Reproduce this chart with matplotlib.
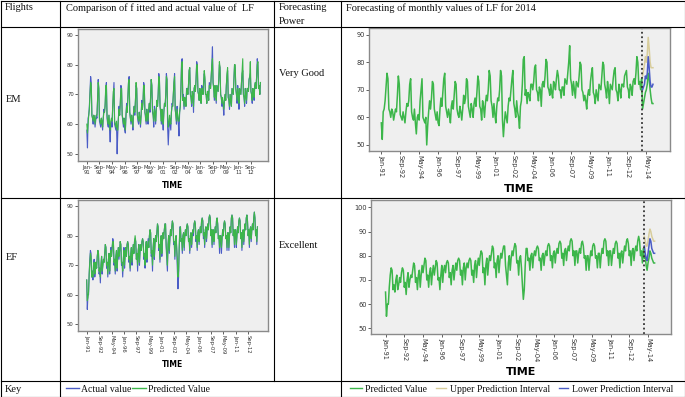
#!/usr/bin/env python3
"""Table of EM / EF load factor fits and 2014 forecasts."""

import matplotlib

matplotlib.use("Agg")
import matplotlib.pyplot as plt
import numpy as np
from matplotlib.lines import Line2D

W, H = 685, 397

TICK_LABELS = ["Jan-91", "Sep-92", "May-94", "Jan-96", "Sep-97", "May-99", "Jan-01",
               "Sep-02", "May-04", "Jan-06", "Sep-07", "May-09", "Jan-11", "Sep-12", "May-14"]

# monthly values Jan-91 .. Dec-13, one row per year
em_actual = [
    58, 52, 62, 63, 66, 71, 76, 74, 63, 62, 60, 63,
    62, 59, 61, 63, 62, 68, 75, 72, 61, 60, 59, 62,
    60, 58, 62, 65, 64, 66, 72, 74, 62, 60, 59, 63,
    58, 54, 60, 61, 59, 66, 70, 74, 60, 59, 58, 60,
    50, 57, 62, 66, 63, 67, 73, 72, 63, 61, 59, 62,
    58, 57, 63, 67, 64, 69, 74, 76, 64, 62, 60, 63,
    61, 58, 64, 66, 63, 68, 73, 72, 63, 61, 60, 64,
    62, 59, 63, 68, 65, 67, 74, 73, 64, 62, 60, 65,
    63, 60, 65, 67, 64, 69, 75, 73, 64, 63, 59, 66,
    64, 60, 65, 68, 66, 70, 77, 75, 66, 64, 60, 65,
    61, 58, 64, 67, 66, 70, 77, 75, 59, 53, 58, 62,
    60, 58, 64, 67, 66, 70, 74, 77, 65, 63, 60, 66,
    62, 60, 56, 64, 66, 72, 81, 82, 68, 70, 65, 69,
    68, 66, 72, 72, 70, 73, 78, 79, 70, 69, 66, 71,
    70, 64, 72, 73, 71, 75, 81, 80, 71, 70, 68, 72,
    69, 67, 73, 72, 70, 74, 77, 75, 70, 70, 67, 71,
    71, 68, 74, 73, 72, 76, 80, 86, 74, 72, 68, 73,
    70, 67, 73, 72, 71, 75, 80, 79, 70, 69, 66, 68,
    66, 63, 68, 70, 68, 73, 76, 78, 69, 68, 65, 70,
    68, 66, 72, 71, 70, 75, 80, 79, 72, 70, 67, 73,
    70, 65, 72, 71, 70, 74, 77, 78, 70, 69, 66, 72,
    70, 67, 72, 72, 71, 75, 76, 77, 71, 70, 67, 72,
    71, 68, 73, 74, 72, 76, 82, 80, 72, 73, 70, 74,
]
em_fitted = [
    60, 57, 60, 63, 65, 70, 74, 73, 63, 62, 61, 63,
    62, 60, 62, 63, 63, 68, 74, 72, 62, 61, 60, 62,
    61, 59, 62, 64, 64, 67, 73, 73, 63, 61, 60, 63,
    60, 58, 61, 62, 61, 66, 71, 72, 61, 60, 59, 61,
    58, 58, 62, 65, 63, 67, 72, 72, 63, 62, 60, 62,
    60, 58, 63, 66, 64, 69, 74, 75, 64, 62, 61, 63,
    61, 59, 64, 66, 64, 68, 74, 72, 63, 62, 61, 64,
    62, 60, 63, 67, 65, 68, 73, 73, 64, 63, 61, 65,
    63, 61, 65, 67, 65, 69, 75, 73, 65, 63, 61, 65,
    64, 61, 65, 68, 66, 70, 76, 75, 66, 64, 61, 65,
    62, 60, 64, 67, 66, 70, 76, 75, 63, 59, 60, 63,
    61, 60, 64, 66, 66, 70, 74, 76, 65, 63, 61, 65,
    63, 61, 61, 64, 66, 71, 79, 81, 68, 69, 66, 69,
    68, 66, 71, 72, 70, 73, 78, 79, 70, 69, 67, 71,
    70, 66, 72, 73, 71, 75, 80, 80, 71, 70, 68, 72,
    70, 67, 72, 72, 70, 74, 78, 76, 70, 70, 67, 71,
    71, 68, 73, 73, 72, 76, 80, 82, 74, 72, 69, 73,
    71, 68, 73, 72, 71, 75, 81, 79, 70, 69, 67, 69,
    67, 65, 68, 70, 68, 73, 77, 79, 69, 68, 66, 70,
    68, 66, 72, 71, 70, 75, 80, 80, 72, 70, 68, 72,
    70, 67, 72, 71, 70, 74, 78, 82, 70, 69, 67, 72,
    70, 68, 72, 72, 71, 75, 76, 81, 71, 70, 68, 72,
    71, 69, 73, 74, 72, 76, 80, 81, 72, 73, 70, 74,
]
ef_actual = [
    65, 55, 60, 60, 67, 72, 75, 74, 66, 68, 65, 70,
    72, 66, 68, 71, 69, 73, 75, 74, 67, 69, 64, 70,
    73, 67, 70, 72, 71, 74, 77, 76, 69, 71, 66, 72,
    74, 67, 72, 76, 73, 76, 79, 78, 70, 72, 67, 73,
    75, 68, 73, 76, 72, 75, 78, 77, 70, 71, 66, 72,
    76, 69, 74, 76, 73, 77, 78, 77, 71, 73, 68, 74,
    76, 70, 74, 77, 74, 78, 79, 78, 72, 74, 68, 75,
    77, 70, 75, 77, 75, 78, 79, 78, 72, 74, 69, 76,
    78, 71, 76, 79, 76, 80, 82, 81, 73, 75, 68, 76,
    79, 72, 77, 80, 78, 81, 84, 83, 75, 77, 71, 78,
    80, 73, 78, 81, 79, 82, 84, 84, 76, 72, 68, 77,
    80, 74, 79, 82, 80, 83, 85, 84, 77, 78, 72, 79,
    80, 75, 68, 62, 66, 76, 83, 83, 78, 79, 74, 80,
    81, 75, 80, 82, 80, 83, 84, 83, 78, 79, 74, 80,
    81, 76, 80, 82, 80, 84, 85, 84, 78, 80, 75, 81,
    82, 77, 81, 83, 81, 85, 86, 85, 79, 81, 76, 82,
    83, 78, 82, 84, 82, 86, 87, 86, 80, 82, 76, 82,
    82, 77, 81, 83, 81, 85, 86, 84, 79, 80, 74, 80,
    80, 74, 79, 82, 80, 84, 85, 84, 79, 80, 75, 81,
    81, 75, 80, 83, 81, 86, 87, 86, 80, 82, 76, 82,
    82, 76, 80, 83, 81, 85, 86, 85, 79, 81, 75, 81,
    82, 77, 81, 84, 82, 86, 87, 85, 80, 82, 76, 82,
    83, 78, 82, 84, 82, 86, 88, 86, 80, 82, 77, 83,
]
ef_fitted = [
    65, 58, 59, 61, 67, 71, 74, 73, 66, 68, 66, 70,
    71, 67, 68, 71, 69, 73, 75, 74, 68, 69, 66, 70,
    73, 68, 70, 72, 71, 74, 77, 76, 70, 71, 67, 72,
    74, 68, 72, 75, 73, 76, 78, 78, 71, 72, 68, 73,
    75, 69, 73, 76, 73, 75, 78, 77, 71, 71, 68, 72,
    75, 70, 74, 76, 73, 77, 78, 77, 72, 73, 69, 74,
    76, 71, 74, 77, 74, 78, 80, 78, 72, 74, 70, 75,
    77, 71, 75, 77, 75, 78, 79, 78, 73, 74, 70, 76,
    78, 72, 76, 78, 76, 80, 82, 81, 74, 75, 70, 76,
    79, 73, 77, 80, 78, 81, 84, 83, 76, 77, 72, 78,
    80, 74, 78, 81, 79, 82, 84, 84, 77, 74, 70, 77,
    80, 75, 79, 82, 80, 83, 85, 84, 78, 78, 73, 79,
    80, 76, 72, 66, 68, 76, 82, 83, 78, 79, 75, 80,
    81, 76, 80, 82, 80, 83, 84, 83, 78, 79, 75, 80,
    81, 77, 80, 82, 81, 84, 85, 84, 79, 80, 76, 81,
    82, 78, 81, 83, 81, 85, 86, 85, 80, 81, 77, 82,
    83, 79, 82, 84, 82, 86, 87, 86, 80, 82, 77, 82,
    82, 78, 81, 83, 81, 85, 86, 84, 79, 80, 76, 80,
    80, 76, 79, 82, 80, 84, 85, 84, 79, 80, 76, 81,
    81, 76, 80, 83, 81, 86, 87, 86, 80, 82, 77, 82,
    82, 77, 80, 83, 81, 85, 86, 85, 79, 81, 76, 81,
    82, 78, 81, 84, 82, 86, 87, 85, 80, 82, 77, 82,
    83, 79, 82, 84, 82, 86, 88, 86, 80, 82, 78, 83,
]

# 2014 forecasts (Jan-14 .. Dec-14)
em_forecast = [63, 65, 67, 69, 70, 72, 76, 74, 70, 67, 65, 65]
em_lower = [70, 71, 72, 75, 74, 76, 82, 78, 73, 71, 71, 72]
em_upper = [75, 77, 79, 82, 80, 83, 89, 85, 80, 78, 78, 78]
ef_forecast = [79, 80, 76, 74, 77, 79, 82, 81, 79, 78, 77, 77]
ef_lower = [84, 81, 79, 78, 81, 84, 87, 86, 83, 82, 81, 81]
ef_upper = [88, 86, 84, 84, 86, 89, 91, 90, 88, 87, 86, 86]

BLUE = "#4a5cc6"
GREEN = "#3cb64a"
TAN = "#d8cd9c"
SERIF = "Liberation Serif"


def _rect(x0, y0, x1, y1):
    return [x0 / W, 1 - y1 / H, (x1 - x0) / W, (y1 - y0) / H]


def _hline(fig, y, x0=0.5, x1=W - 0.5):
    fig.add_artist(Line2D([x0 / W, x1 / W], [1 - y / H, 1 - y / H],
                          transform=fig.transFigure, color="black", lw=0.8))


def _vline(fig, x, y0=0.5, y1=H - 0.5):
    fig.add_artist(Line2D([x / W, x / W], [1 - y0 / H, 1 - y1 / H],
                          transform=fig.transFigure, color="black", lw=0.8))


def _text(fig, x, y, s, size=7.5):
    fig.text(x / W, 1 - y / H, s, ha="left", va="center", fontfamily=SERIF,
             fontsize=size, color="#111111")


def _key(fig, x0, x1, y, color):
    fig.add_artist(Line2D([x0 / W, x1 / W], [1 - y / H, 1 - y / H],
                          transform=fig.transFigure, color=color, lw=1.0))


def _style(ax, xlim, ylim, yticks, small):
    ax.set_facecolor("#efefef")
    for sp in ax.spines.values():
        sp.set_color("#8a8a8a")
        sp.set_linewidth(1.0)
    ax.set_xlim(*xlim)
    ax.set_ylim(*ylim)
    ax.set_yticks(yticks)
    ax.tick_params(axis="both", direction="out", length=2, width=0.6, color="#444444",
                   labelsize=3.8 if small else 4.8, pad=1, labelcolor="#333333")
    ax.set_xlabel("TIME", fontsize=5.5 if small else 8, fontweight="bold",
                  labelpad=4 if small else 3, fontfamily="DejaVu Sans")


def main():
    fig = plt.figure(figsize=(W / 100, H / 100), dpi=100)
    months = np.arange(len(em_actual))
    fc_months = np.arange(len(em_actual), len(em_actual) + len(em_forecast))
    full = np.arange(len(em_actual) + len(em_forecast))

    # EM fitted vs actual
    ax = fig.add_axes(_rect(78, 29, 268, 161))
    ax.plot(months, em_actual, color=BLUE, lw=0.8)
    ax.plot(months, em_fitted, color=GREEN, lw=0.8)
    _style(ax, (-14, 287), (47.6, 92), [50, 60, 70, 80, 90], True)
    ax.set_xticks(np.arange(0, 261, 20))
    ax.set_xticklabels([t.replace("-", "-\n") for t in TICK_LABELS[:14]], linespacing=1.0)

    # EM forecast
    ax = fig.add_axes(_rect(369, 28, 670, 151))
    ax.plot(full, em_actual + em_forecast, color=GREEN, lw=1.1)
    ax.plot(fc_months, em_upper, color=TAN, lw=1.1)
    ax.plot(fc_months, em_lower, color=BLUE, lw=1.1)
    ax.axvline(275.5, color="#333333", lw=1.3, ls=(0, (1, 1.5)))
    _style(ax, (-13, 305), (47.8, 92.4), [50, 60, 70, 80, 90], False)
    ax.set_xticks(np.arange(0, 281, 20))
    ax.set_xticklabels(TICK_LABELS, rotation=270)

    # EF fitted vs actual
    ax = fig.add_axes(_rect(78, 200, 268, 331))
    ax.plot(months, ef_actual, color=BLUE, lw=0.8)
    ax.plot(months, ef_fitted, color=GREEN, lw=0.8)
    _style(ax, (-14, 292), (47.7, 92.1), [50, 60, 70, 80, 90], True)
    ax.set_xticks(np.arange(0, 261, 20))
    ax.set_xticklabels(TICK_LABELS[:14], rotation=270)

    # EF forecast
    ax = fig.add_axes(_rect(371, 200, 671, 334))
    ax.plot(full, ef_actual + ef_forecast, color=GREEN, lw=1.1)
    ax.plot(fc_months, ef_upper, color=TAN, lw=1.1)
    ax.plot(fc_months, ef_lower, color=BLUE, lw=1.1)
    ax.axvline(275.5, color="#333333", lw=1.3, ls=(0, (1, 1.5)))
    _style(ax, (-15.5, 304.5), (47.7, 103), [50, 60, 70, 80, 90, 100], False)
    ax.set_xticks(np.arange(0, 281, 20))
    ax.set_xticklabels(TICK_LABELS, rotation=270)

    # table grid
    for y in (0.5, 27, 198, 381, H - 0.5):
        _hline(fig, y)
    for x in (0.5, 60, 341, W - 0.5):
        _vline(fig, x)
    _vline(fig, 274, 0.5, 381)

    _text(fig, 5, 8, "Flights")
    _text(fig, 66, 8, "Comparison of f itted and actual value of  LF")
    _text(fig, 279, 8, "Forecasting")
    _text(fig, 279, 21, "Power")
    _text(fig, 346, 8, "Forecasting of monthly values of LF for 2014")
    _text(fig, 6, 100, "EM")
    _text(fig, 279, 74, "Very Good")
    _text(fig, 6, 258, "EF")
    _text(fig, 279, 246, "Excellent")
    _text(fig, 5, 389, "Key")

    _key(fig, 66, 79, 388, BLUE)
    _text(fig, 81, 389, "Actual value", 7)
    _key(fig, 132, 146, 388, GREEN)
    _text(fig, 148, 389, "Predicted Value", 7)
    _key(fig, 350, 362, 388, GREEN)
    _text(fig, 365, 389, "Predicted Value", 7)
    _key(fig, 436, 446, 388, TAN)
    _text(fig, 450, 389, "Upper Prediction Interval", 7)
    _key(fig, 559, 568, 388, BLUE)
    _text(fig, 572, 389, "Lower Prediction Interval", 7)

    fig.savefig("out.png", dpi=100)
    plt.close(fig)


if __name__ == "__main__":
    main()
